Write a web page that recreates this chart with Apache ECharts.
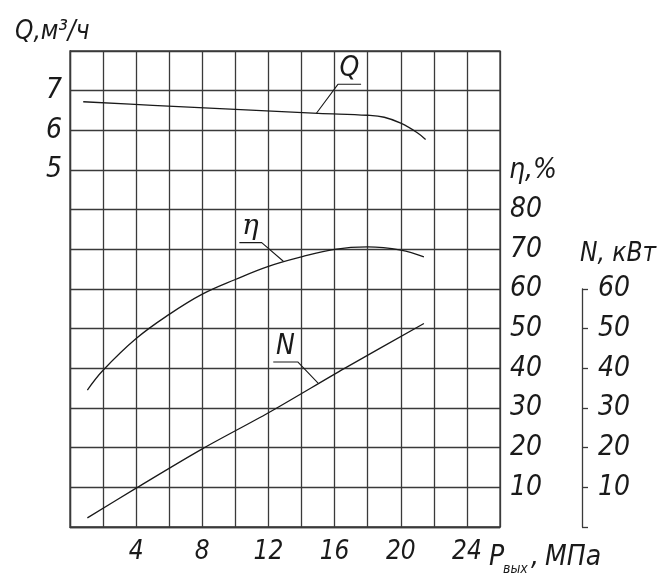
<!DOCTYPE html>
<html><head><meta charset="utf-8">
<script src="https://cdn.jsdelivr.net/npm/echarts@6/dist/echarts.min.js"></script>
<style>html,body{margin:0;padding:0;background:#fff}#c{width:663px;height:585px}</style>
</head><body><div id="c"></div>
<script>
// ---- data ----
const pressureTicks = [4, 8, 12, 16, 20, 24];            // МПа
const qTicks = [5, 6, 7];                                   // м3/ч
const etaTicks = [10, 20, 30, 40, 50, 60, 70, 80];          // %
const nTicks = [10, 20, 30, 40, 50, 60];                    // кВт
const qCurve = [[0.8, 6.72], [5, 6.63], [10, 6.53], [15, 6.43], [18, 6.38], [19, 6.33], [20, 6.18], [21, 5.94], [21.5, 5.77]];
const etaCurve = [[1.05, 34.5], [2, 39.5], [4, 47.5], [6, 53.6], [8, 58.7], [10, 62.4], [12, 65.7], [14, 68.1], [16, 70.0], [18, 70.6], [20, 69.8], [21.4, 68.1]];
const nCurve = [[1.05, 2.3], [4, 9.8], [8, 19.7], [12, 28.8], [16.6, 40.0], [21.4, 51.3]];
const qLeader = [[14.9, 6.43], [16.2, 7.16], [17.6, 7.16]];
const etaLeader = [[12.9, 67.0], [11.59, 71.7], [10.24, 71.7]];
const nLeader = [[15.0, 36.3], [13.77, 41.6], [12.29, 41.6]];
const qTag = [16.9, 7.16, 'Q'];
const etaTag = [10.9, 71.7, 'η'];
const nTag = [13.03, 41.6, 'N'];

const FONT = "'Liberation Sans Narrow','DejaVu Sans Condensed','Liberation Sans',sans-serif";
const INK = '#1a1a1a';
const GRIDC = '#3a3a3a';
const txt = (size) => ({ fontFamily: FONT, fontStyle: 'italic', fontSize: size, color: INK });

function leaderSeries(arr, xi, yi) {
  return {
    type: 'line', xAxisIndex: xi, yAxisIndex: yi, data: arr,
    symbol: 'none', silent: true,
    lineStyle: { color: INK, width: 1.1 }
  };
}
function tagSeries(tag, xi, yi, family) {
  return {
    type: 'scatter', xAxisIndex: xi, yAxisIndex: yi, data: [tag], silent: true,
    symbolSize: 1, itemStyle: { color: 'rgba(0,0,0,0)', opacity: 1 },
    label: { show: true, position: 'top', distance: 1, opacity: 1, formatter: p => p.value[2], ...txt(28), fontFamily: family || FONT }
  };
}

const chart = echarts.init(document.getElementById('c'), null, { renderer: 'canvas' });
const option = {
  animation: false,
  backgroundColor: '#fff',
  grid: [
    { left: 70, right: 163, top: 51, bottom: 58, show: true, borderColor: GRIDC, borderWidth: 1.3 },
    { left: 70, right: 163, top: 289, bottom: 58 }
  ],
  xAxis: [
    {
      gridIndex: 0, type: 'value', min: 0, max: 26, interval: 2,
      axisLine: { show: true, onZero: false, lineStyle: { color: GRIDC, width: 1.3 } },
      axisTick: { show: false },
      splitLine: { show: true, lineStyle: { color: GRIDC, width: 1.3 } },
      axisLabel: { margin: 12, ...txt(26), formatter: v => pressureTicks.includes(v) ? String(v) : '' }
    },
    { gridIndex: 1, type: 'value', min: 0, max: 26, show: false, axisLine: { onZero: false } }
  ],
  yAxis: [
    {
      gridIndex: 0, type: 'value', min: -4, max: 8, interval: 1, position: 'left',
      axisLine: { show: true, onZero: false, lineStyle: { color: GRIDC, width: 1.3 } },
      axisTick: { show: false },
      splitLine: { show: true, lineStyle: { color: GRIDC, width: 1.3 } },
      axisLabel: { margin: 8, ...txt(28), formatter: v => qTicks.includes(v) ? String(v) : '' }
    },
    {
      gridIndex: 0, type: 'value', min: 0, max: 120, interval: 10, position: 'right',
      axisLine: { show: false, onZero: false }, axisTick: { show: false }, splitLine: { show: false },
      axisLabel: { margin: 10, ...txt(28), formatter: v => etaTicks.includes(v) ? String(v) : '' }
    },
    {
      gridIndex: 1, type: 'value', min: 0, max: 60, interval: 10, position: 'right', offset: 82,
      axisLine: { show: true, onZero: false, lineStyle: { color: GRIDC, width: 1.3 } },
      axisTick: { show: true, inside: false, length: 6, lineStyle: { color: GRIDC, width: 1.3 } },
      splitLine: { show: false },
      axisLabel: { margin: 16, ...txt(28), formatter: v => nTicks.includes(v) ? String(v) : '' }
    }
  ],
  series: [
    { type: 'line', name: 'Q', xAxisIndex: 0, yAxisIndex: 0, data: qCurve, smooth: 0.4, showSymbol: false, lineStyle: { color: INK, width: 1.3 } },
    { type: 'line', name: 'η', xAxisIndex: 0, yAxisIndex: 1, data: etaCurve, smooth: 0.4, showSymbol: false, lineStyle: { color: INK, width: 1.3 } },
    { type: 'line', name: 'N', xAxisIndex: 1, yAxisIndex: 2, data: nCurve, smooth: 0.3, showSymbol: false, lineStyle: { color: INK, width: 1.3 } },
    leaderSeries(qLeader, 0, 0),
    leaderSeries(etaLeader, 0, 1),
    leaderSeries(nLeader, 1, 2),
    tagSeries(qTag, 0, 0),
    tagSeries(etaTag, 0, 1, "'DejaVu Serif',serif"),
    tagSeries(nTag, 1, 2)
  ],
  graphic: [
    { type: 'text', left: 15, top: 19, style: { text: 'Q,м³/ч', font: "italic 26px " + FONT, fill: INK } },
    { type: 'text', left: 509, top: 157, style: { text: 'η,%', font: "italic 28px " + FONT, fill: INK } },
    { type: 'text', left: 580, top: 241, style: { text: 'N, кВт', font: "italic 26px " + FONT, fill: INK } },
    { type: 'text', left: 489, top: 544, style: { text: 'P', font: "italic 28px " + FONT, fill: INK } },
    { type: 'text', left: 503, top: 562, style: { text: 'вых', font: "italic 14px " + FONT, fill: INK } },
    { type: 'text', left: 531, top: 544, style: { text: ',', font: "italic 28px " + FONT, fill: INK } },
    { type: 'text', left: 545, top: 544, style: { text: 'МПа', font: "italic 28px " + FONT, fill: INK } }
  ]
};
chart.setOption(option);
</script></body></html>
